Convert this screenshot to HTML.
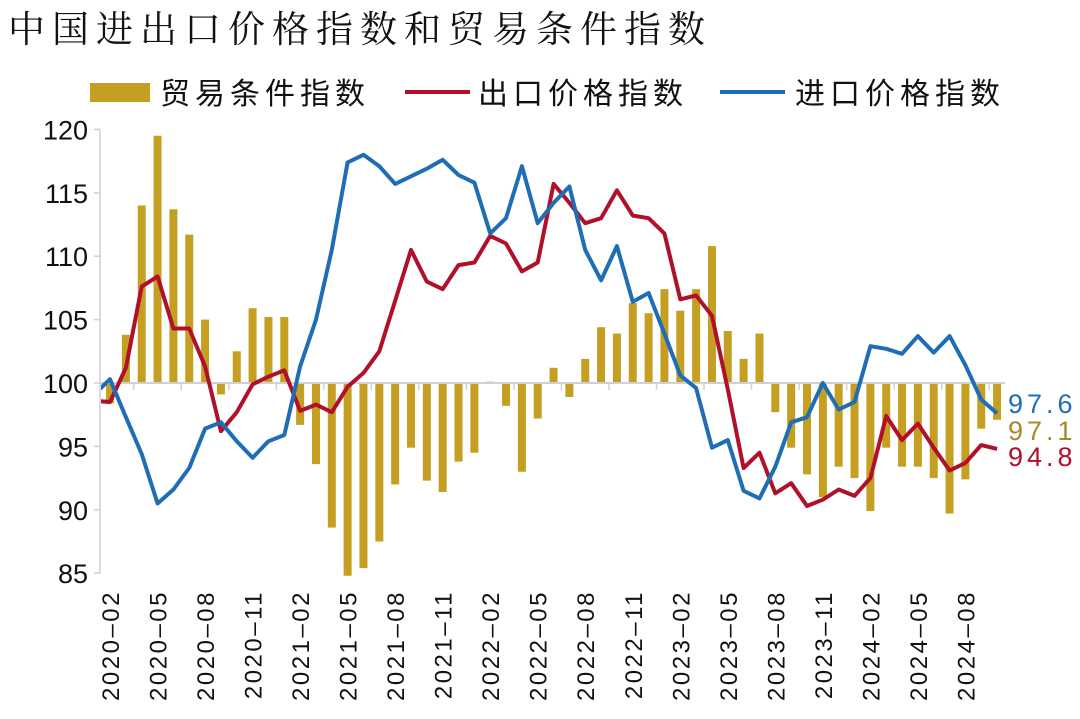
<!DOCTYPE html>
<html><head><meta charset="utf-8"><style>
body{margin:0;background:#fff;}
svg{display:block;font-family:"Liberation Sans","Noto Sans CJK SC",sans-serif;}
</style></head><body>
<svg width="1080" height="719" viewBox="0 0 1080 719">
<text x="8" y="42" font-size="37" letter-spacing="7" fill="#111" style="font-family:'Noto Serif CJK SC',serif">中国进出口价格指数和贸易条件指数</text>
<g>
 <g><rect x="90" y="83" width="60" height="19" fill="#C49F22"/><text x="160" y="104" font-size="30" letter-spacing="5" fill="#111">贸易条件指数</text></g>
 <g><line x1="405" y1="92" x2="470" y2="92" stroke="#B0102A" stroke-width="4"/><text x="478" y="104" font-size="30" letter-spacing="5" fill="#111">出口价格指数</text></g>
 <g><line x1="720" y1="92" x2="785" y2="92" stroke="#1F6DB5" stroke-width="4"/><text x="795" y="104" font-size="30" letter-spacing="5" fill="#111">进口价格指数</text></g>
</g>
<defs><clipPath id="plot"><rect x="101" y="100" width="979" height="500"/></clipPath></defs>
<g id="yaxis"></g>
<g id="bars"></g>
<g id="xaxis"></g>
<g id="lines" clip-path="url(#plot)"></g>
<g id="endlabels"></g>
</svg>
<script>
const months = [];
for (let y = 2020; y <= 2024; y++) for (let m = 1; m <= 12; m++) { if (y === 2024 && m > 10) break; months.push(y + '-' + String(m).padStart(2, '0')); }
const termsOfTrade = [null,98.4,103.8,114.0,119.5,113.7,111.7,105.0,99.1,102.5,105.9,105.2,
 105.2,96.7,93.6,88.6,84.8,85.4,87.5,92.0,94.9,92.3,91.4,93.8,
 94.5,100.1,98.2,93.0,97.2,101.2,98.9,101.9,104.4,103.9,106.3,105.5,
 107.4,105.7,107.4,110.8,104.1,101.9,103.9,97.7,94.9,92.8,91.0,93.4,
 92.5,89.9,94.9,93.4,93.4,92.5,89.7,92.4,96.4,97.1];
const exportPrice = [98.6,98.5,101.2,107.6,108.4,104.3,104.3,101.3,96.2,97.7,99.9,100.5,
 101.0,97.8,98.3,97.7,99.7,100.8,102.5,106.5,110.5,108.0,107.4,109.3,
 109.5,111.6,111.0,108.8,109.5,115.7,114.2,112.6,113.0,115.2,113.2,113.0,
 111.8,106.6,106.9,105.3,99.5,93.3,94.5,91.3,92.1,90.3,90.8,91.6,
 91.1,92.5,97.4,95.5,96.8,94.9,93.1,93.7,95.1,94.8];
const importPrice = [99.1,100.3,97.3,94.4,90.5,91.6,93.3,96.4,96.9,95.4,94.1,95.4,
 95.9,101.3,105.0,110.5,117.4,118.0,117.1,115.7,116.3,116.9,117.6,116.4,
 115.8,111.8,113.0,117.1,112.6,114.2,115.5,110.5,108.1,110.8,106.4,107.1,
 103.9,100.6,99.6,94.9,95.5,91.5,90.9,93.4,96.9,97.3,100.0,97.9,
 98.5,102.9,102.7,102.3,103.7,102.4,103.7,101.4,98.7,97.6];
const yTicks = [85,90,95,100,105,110,115,120];
const endValues = [['97.6','#1F6DB5',403],['97.1','#A8892A',430],['94.8','#B0102A',456]];

const NS = 'http://www.w3.org/2000/svg';
const X = i => 94.2 + 15.84 * i;
const Y = v => 383 - (v - 100) * 12.68;
function mk(tag, attrs, parent) { const e = document.createElementNS(NS, tag); for (const k in attrs) e.setAttribute(k, attrs[k]); parent.appendChild(e); return e; }
const ya = document.getElementById('yaxis');
mk('line', {x1:100, y1:Y(120), x2:100, y2:Y(85), stroke:'#d0d0d0', 'stroke-width':1.5}, ya);
yTicks.forEach(t => {
  mk('line', {x1:94, y1:Y(t), x2:100, y2:Y(t), stroke:'#d0d0d0', 'stroke-width':1.5}, ya);
  const tx = mk('text', {x:88, y:Y(t) + 10, 'font-size':27, 'text-anchor':'end', fill:'#111'}, ya);
  tx.textContent = t;
  
  
});
const bg = document.getElementById('bars');
termsOfTrade.forEach((v, i) => {
  if (v === null) return;
  const y0 = Y(100), y1 = Y(v);
  const r = mk('rect', {x:X(i) - 4, y:Math.min(y0, y1), width:8, height:Math.max(Math.abs(y1 - y0), 0.8), fill:'#C49F22'}, bg);
  
  
});
const xa = document.getElementById('xaxis');
mk('line', {x1:100, y1:Y(100), x2:X(57) + 8, y2:Y(100), stroke:'#d0d0d0', 'stroke-width':2}, xa);
for (let i = 1; i < months.length; i += 3) {
  const tx = X(i + 1.5);
  mk('line', {x1:tx, y1:Y(100), x2:tx, y2:Y(100) + 7, stroke:'#d0d0d0', 'stroke-width':1.5}, xa);
  const t = mk('text', {x:0, y:0, 'font-size':24, 'letter-spacing':2.5, 'text-anchor':'end', fill:'#111', transform:'translate(' + (X(i) + 9) + ',590) rotate(-90)'}, xa);
  t.textContent = months[i].replace('-', '–');
  
  
}
const lg = document.getElementById('lines');
[[exportPrice, '#B0102A', 'export-price-line'], [importPrice, '#1F6DB5', 'import-price-line']].forEach(([d, c, n]) => {
  const p = mk('polyline', {points:d.map((v, i) => X(i).toFixed(1) + ',' + Y(v).toFixed(1)).join(' '), fill:'none', stroke:c, 'stroke-width':4, 'stroke-linejoin':'round'}, lg);
  
  
});
const el = document.getElementById('endlabels');
endValues.forEach(([t, c, y]) => {
  const e = mk('text', {x:1008, y:y + 10, 'font-size':27, fill:c, 'letter-spacing':'4'}, el);
  e.textContent = t;
  
  
});
</script>
</body></html>
